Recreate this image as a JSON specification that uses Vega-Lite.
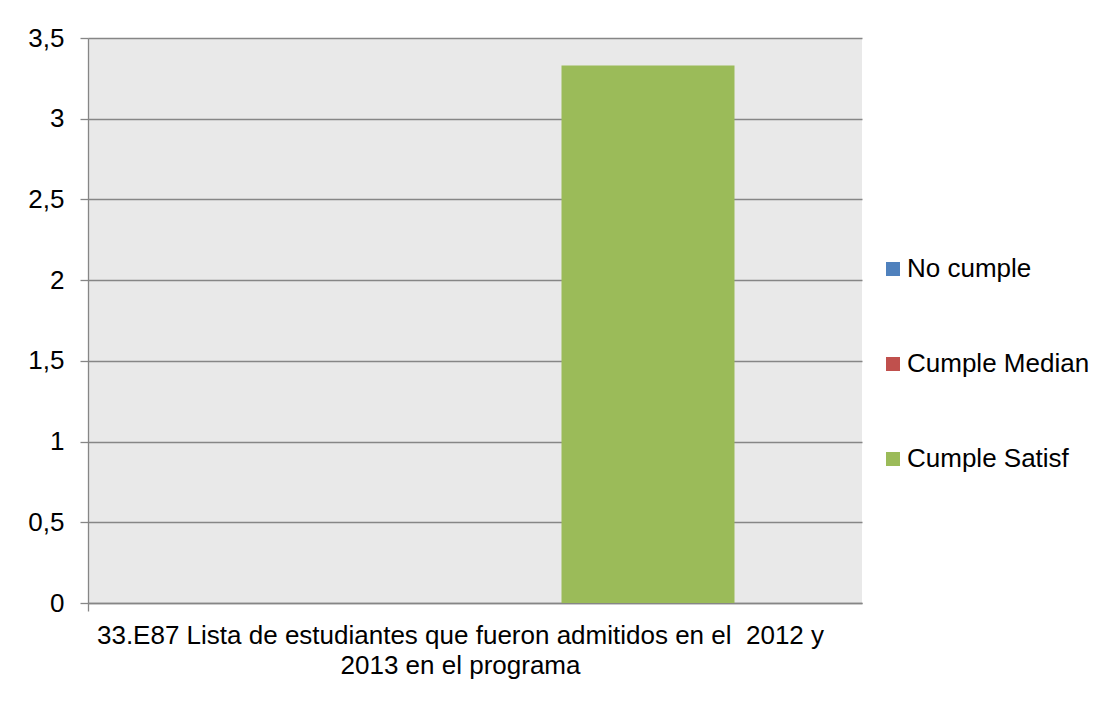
{
  "$schema": "https://vega.github.io/schema/vega-lite/v6.json",
  "width": 774,
  "height": 565,
  "autosize": {"type": "none"},
  "padding": {"left": 88, "top": 38, "right": 231, "bottom": 101},
  "background": "white",
  "config": {
    "view": {"fill": "#e9e9e9", "stroke": null},
    "font": "Liberation Sans"
  },
  "data": {
    "values": [
      {"criterio": "33.E87 Lista de estudiantes que fueron admitidos en el  2012 y 2013 en el programa", "serie": "No cumple", "valor": 0},
      {"criterio": "33.E87 Lista de estudiantes que fueron admitidos en el  2012 y 2013 en el programa", "serie": "Cumple Median", "valor": 0},
      {"criterio": "33.E87 Lista de estudiantes que fueron admitidos en el  2012 y 2013 en el programa", "serie": "Cumple Satisf", "valor": 3.33}
    ]
  },
  "mark": {"type": "bar"},
  "encoding": {
    "x": {
      "field": "criterio",
      "type": "nominal",
      "scale": {"paddingInner": 0, "paddingOuter": 0},
      "axis": {
        "title": null,
        "labelAngle": 0,
        "labelAlign": "center",
        "labelFontSize": 26,
        "labelColor": "black",
        "labelLineHeight": 30,
        "labelLimit": 0,
        "labelPadding": 11,
        "labelOffset": 372,
        "labelExpr": "['33.E87 Lista de estudiantes que fueron admitidos en el \u00a02012 y', '2013 en el programa']",
        "domainColor": "#868686",
        "domainWidth": 1.3,
        "tickColor": "#868686",
        "tickWidth": 1.3,
        "tickSize": 8,
        "tickOffset": -387,
        "grid": false
      }
    },
    "xOffset": {
      "field": "serie",
      "type": "nominal",
      "sort": ["No cumple", "Cumple Median", "Cumple Satisf"],
      "scale": {"paddingInner": 0, "paddingOuter": 0.737}
    },
    "y": {
      "field": "valor",
      "type": "quantitative",
      "scale": {"domain": [0, 3.5], "nice": false},
      "axis": {
        "title": null,
        "values": [0, 0.5, 1, 1.5, 2, 2.5, 3, 3.5],
        "labelExpr": "replace(format(datum.value, '~g'), '.', ',')",
        "labelFontSize": 26,
        "labelColor": "black",
        "labelPadding": 16,
        "domainColor": "#868686",
        "domainWidth": 1.3,
        "tickColor": "#868686",
        "tickWidth": 1.3,
        "tickSize": 8,
        "gridColor": "#868686",
        "gridWidth": 1.3
      }
    },
    "color": {
      "field": "serie",
      "type": "nominal",
      "sort": ["No cumple", "Cumple Median", "Cumple Satisf"],
      "scale": {
        "domain": ["No cumple", "Cumple Median", "Cumple Satisf"],
        "range": ["#4f81bd", "#c0504d", "#9bbb59"]
      },
      "legend": {
        "title": null,
        "orient": "none",
        "legendX": 792,
        "legendY": 218,
        "direction": "vertical",
        "symbolType": "square",
        "symbolSize": 196,
        "symbolStrokeWidth": 0,
        "labelFontSize": 26,
        "labelColor": "black",
        "labelOffset": 1,
        "labelLimit": 0,
        "rowPadding": 69
      }
    }
  }
}
